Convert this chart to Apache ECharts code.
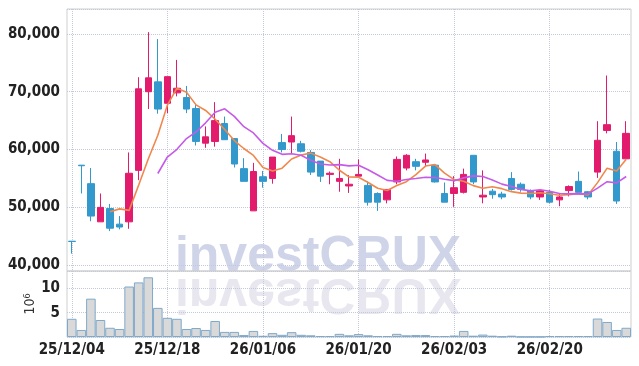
<!DOCTYPE html>
<html><head><meta charset="utf-8">
<script src="https://cdn.jsdelivr.net/npm/echarts@6/dist/echarts.min.js"></script>
<style>html,body{margin:0;padding:0;background:#fff}#c{width:639px;height:366px}</style>
</head><body><div id="c"></div>
<script>
const dates = ['25/12/04','25/12/05','25/12/08','25/12/09','25/12/10','25/12/11','25/12/12','25/12/15','25/12/16','25/12/17',
'25/12/18','25/12/19','25/12/22','25/12/23','25/12/24','25/12/26','25/12/29','25/12/30','26/01/02','26/01/05',
'26/01/06','26/01/07','26/01/08','26/01/09','26/01/12','26/01/13','26/01/14','26/01/15','26/01/16','26/01/19',
'26/01/20','26/01/21','26/01/22','26/01/23','26/01/26','26/01/27','26/01/28','26/01/29','26/01/30','26/02/02',
'26/02/03','26/02/04','26/02/05','26/02/06','26/02/09','26/02/10','26/02/11','26/02/12','26/02/13','26/02/19',
'26/02/20','26/02/23','26/02/24','26/02/25','26/02/26','26/02/27','26/03/03','26/03/04','26/03/05'];
const opens = [44150,57300,54100,47500,49800,47100,47500,56400,70000,71700,
68000,69800,69000,67100,61100,61400,64500,61900,56700,49400,
55300,55000,61200,61300,61000,59500,58000,55700,54500,53700,
55400,53800,52400,51300,54400,56800,57900,57800,57300,52400,
52400,52600,59000,51800,52800,52300,55000,54000,52900,51800,
52600,51300,52900,54500,52700,56100,63300,59700,58400];
const closes = [44100,57200,48500,50000,46400,46600,55900,70500,72400,67000,
72600,70600,67000,61400,62200,65000,61700,57500,54500,56200,
54500,58700,60000,62400,59700,56100,55400,55900,55000,54000,
55700,50900,50900,53100,58300,59000,57100,58200,54400,50900,
53400,55700,54400,52100,52200,51800,53100,53100,51800,52900,
50900,51800,53600,52600,51800,61600,64300,51100,62800];
const lows = [42000,52400,47600,47500,45900,46200,46300,54700,67000,66200,
66300,69200,66300,60700,60300,60500,61700,56900,54500,49400,
53400,54100,59500,59300,59500,55600,54400,54000,52700,52500,
55300,50300,49400,50700,54000,56400,56400,57100,54300,50900,
50100,52400,54000,50700,51500,51400,52900,52700,51400,51300,
50700,50200,51900,52600,51400,55100,62800,50600,58400];
const highs = [44150,57300,56800,52400,50600,48500,59500,72500,80300,79100,
72600,75500,71000,67900,64000,68200,65700,61900,58500,57700,
56300,58700,62700,65700,61500,59900,58000,56200,58400,55600,
58300,54500,52600,53100,58800,59200,58400,59300,57300,54300,
55400,56700,59000,56400,53200,52700,56100,54300,53100,53100,
53000,52500,53800,56200,52800,64900,72800,61300,64900];
const volumes = [3.75,1.45,7.9,3.5,1.9,1.65,10.4,11.25,12.3,6.0,
3.95,3.75,1.65,1.85,1.45,3.3,1.05,1.05,0.4,1.25,
0.25,0.8,0.45,1.0,0.45,0.35,0.2,0.2,0.65,0.35,
0.6,0.35,0.2,0.2,0.65,0.35,0.4,0.4,0.2,0.2,
0.3,1.25,0.27,0.5,0.27,0.1,0.27,0.05,0.05,0.05,
0.2,0.2,0.2,0.2,0.2,3.8,3.1,1.45,1.9];

function movingAverage(n){
  return closes.map((c,i)=>{
    if(i<n-1) return '-';
    let s=0; for(let k=i-n+1;k<=i;k++) s+=closes[k];
    return s/n;
  });
}
const ma5 = movingAverage(5);
const ma10 = movingAverage(10);

const UP='#e31b6d', DOWN='#3399cc';
const FONT='"Liberation Sans Narrow","DejaVu Sans Condensed","Roboto Condensed","Liberation Sans",sans-serif';
const gridLine={show:true,lineStyle:{type:'dotted',color:'#c3c8da',width:1}};
const lbl={fontFamily:FONT,fontWeight:'bold',fontSize:15,color:'#222'};

const chart = echarts.init(document.getElementById('c'),null,{renderer:'canvas'});
chart.setOption({
  animation:false,
  backgroundColor:'#fff',
  grid:[
    {left:67,right:8,top:9,height:262,show:true,borderColor:'#cfcfcf',borderWidth:1,backgroundColor:'transparent'},
    {left:67,right:8,top:271,height:66,show:true,borderColor:'#cfcfcf',borderWidth:1,backgroundColor:'transparent'}
  ],
  xAxis:[
    {type:'category',data:dates,gridIndex:0,boundaryGap:true,
     axisLine:{show:false},axisTick:{show:false},axisLabel:{show:false},
     splitLine:Object.assign({interval:9,alignWithLabel:true},gridLine)},
    {type:'category',data:dates,gridIndex:1,boundaryGap:true,
     axisLine:{show:false},axisTick:{show:false},
     axisLabel:Object.assign({interval:9,margin:6},lbl),
     splitLine:Object.assign({interval:9,alignWithLabel:true},gridLine)}
  ],
  yAxis:[
    {type:'value',gridIndex:0,min:39000,max:84300,scale:true,
     axisLine:{show:false},axisTick:{show:false},
     axisLabel:Object.assign({showMinLabel:false,showMaxLabel:false,margin:7,
       formatter:v=>v.toLocaleString('en-US')},lbl),
     splitLine:gridLine},
    {type:'value',gridIndex:1,min:0,max:13.6,interval:5,
     name:'10{s|6}',nameLocation:'middle',nameGap:29,nameRotate:90,nameMoveOverlap:false,
     nameTextStyle:{fontFamily:FONT,fontSize:14,color:'#333',rich:{s:{fontFamily:FONT,fontSize:9,color:'#333',verticalAlign:'top',padding:[0,0,6,0]}}},
     axisLine:{show:false},axisTick:{show:false},
     axisLabel:Object.assign({showMinLabel:false,showMaxLabel:false,margin:7},lbl),
     splitLine:gridLine}
  ],
  graphic:[
    {type:'text',x:318,y:282,z:-10,zlevel:0,silent:true,
     style:{text:'investCRUX',font:'bold 50px "Liberation Sans"',fill:'#cfd4e8',textAlign:'center',textVerticalAlign:'bottom'}},
    {type:'text',x:318,y:268,scaleY:-1,z:-10,zlevel:0,silent:true,
     style:{text:'investCRUX',font:'bold 50px "Liberation Sans"',fill:'#e8e6ef',textAlign:'center',textVerticalAlign:'bottom'}}
  ],
  series:[
    {type:'candlestick',xAxisIndex:0,yAxisIndex:0,barWidth:7,
     data:opens.map((o,i)=>[o,closes[i],lows[i],highs[i]]),
     itemStyle:{color:UP,color0:DOWN,borderColor:UP,borderColor0:DOWN,borderWidth:1}},
    {type:'line',xAxisIndex:0,yAxisIndex:0,data:ma5,showSymbol:false,symbol:'none',
     lineStyle:{color:'#f0884e',width:1.6}},
    {type:'line',xAxisIndex:0,yAxisIndex:0,data:ma10,showSymbol:false,symbol:'none',
     lineStyle:{color:'#c65ae8',width:1.6}},
    {type:'bar',xAxisIndex:1,yAxisIndex:1,data:volumes,barCategoryGap:'0%',
     itemStyle:{color:'#d9d9d9',borderColor:'#7fa9ca',borderWidth:1}}
  ]
});
</script></body></html>
